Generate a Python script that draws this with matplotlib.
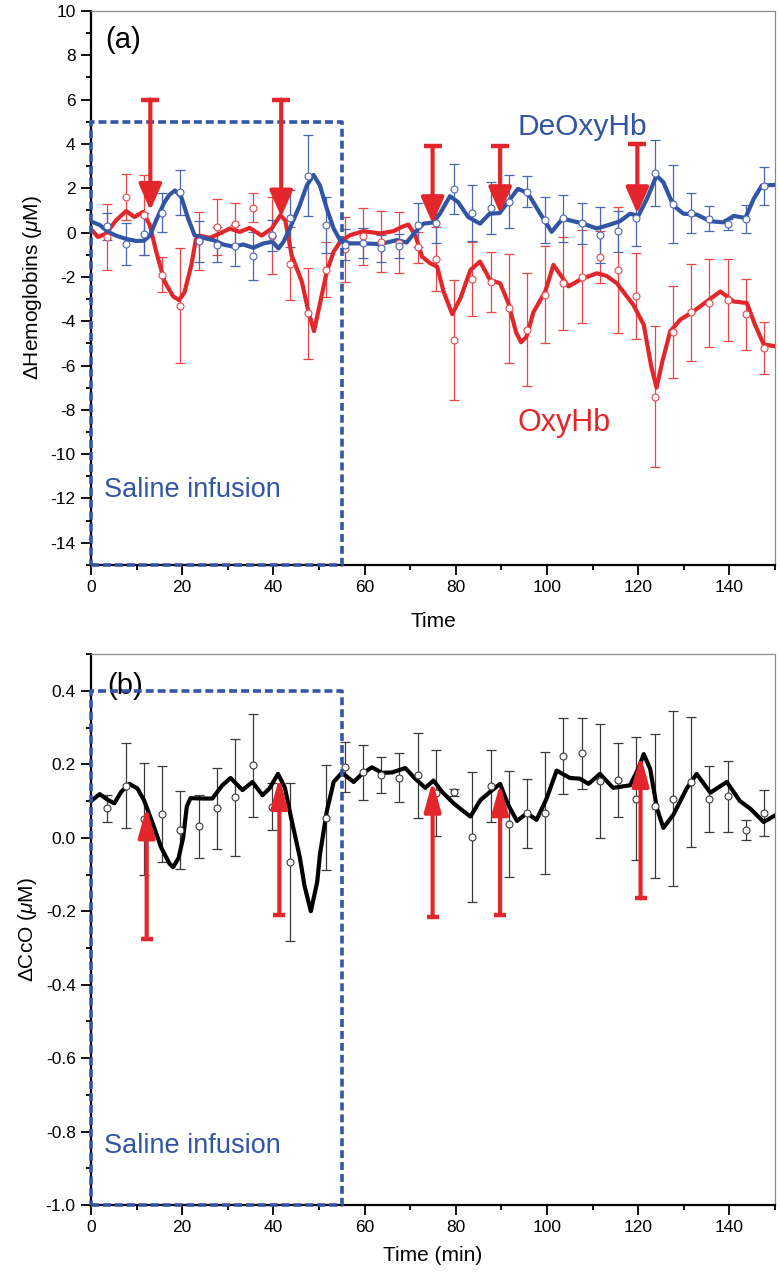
import matplotlib
matplotlib.use('Agg')
import matplotlib.pyplot as plt
from matplotlib.ticker import MultipleLocator, FormatStrFormatter

plt.rcParams['font.family'] = ['Liberation Sans', 'DejaVu Sans']
plt.rcParams['axes.unicode_minus'] = False
plt.rcParams['mathtext.fontset'] = 'custom'
plt.rcParams['mathtext.it'] = 'Liberation Sans:italic'
plt.rcParams['mathtext.rm'] = 'Liberation Sans'

RED = '#e3262b'
BLUE = '#3155a4'
BLUE_ERR = '#4a66b0'
RED_ERR = '#e8474a'
BOX = '#3456a6'

# sampled points, every 4 min
t_pts = [3.6, 7.6, 11.6, 15.6, 19.6, 23.6, 27.6, 31.6, 35.6, 39.6, 43.6, 47.6,
         51.6, 55.6, 59.6, 63.6, 67.6, 71.6, 75.6, 79.6, 83.6, 87.6, 91.6, 95.6,
         99.6, 103.6, 107.6, 111.6, 115.6, 119.6, 123.6, 127.6, 131.6, 135.6,
         139.6, 143.6, 147.6]
oxy = [-0.2, 1.6, 0.8, -1.9, -3.3, -0.38, 0.25, 0.4, 1.12, -0.14, -1.4, -3.65,
       -1.67, -0.75, -0.17, -0.42, -0.45, -0.66, -1.2, -4.85, -2.1, -2.23, -3.42, -4.38,
       -2.8, -2.28, -2.0, -1.1, -1.69, -2.88, -7.4, -4.48, -3.6, -3.18,
       -3.05, -3.68, -5.2]
oxy_err = [1.5, 1.05, 1.8, 0.8, 2.6, 1.3, 1.25, 0.95, 0.65, 1.74, 1.64, 2.05,
           1.25, 1.46, 1.28, 1.37, 1.38, 0.7, 1.45, 2.7, 1.68, 1.37, 2.47, 2.54,
           2.2, 2.1, 2.1, 1.17, 2.84, 1.94, 3.17, 2.07, 2.18, 1.98,
           1.85, 1.6, 1.17]
deoxy = [0.28, -0.52, -0.07, 0.9, 1.81, -0.4, -0.55, -0.6, -1.05, -0.12, 0.65, 2.57,
         0.33, -0.55, -0.48, -0.72, -0.6, 0.35, 0.44, 1.97, 0.88, 1.1, 1.4, 1.85,
         0.57, 0.64, 0.41, -0.12, 0.05, 0.66, 2.68, 1.29, 0.87, 0.63,
         0.37, 0.59, 2.09]
deoxy_err = [0.6, 0.95, 0.93, 0.87, 1.03, 0.91, 0.8, 0.93, 1.08, 0.7, 1.29, 1.82,
             1.27, 0.7, 0.69, 0.6, 0.55, 1.0, 0.93, 1.12, 1.27, 1.16, 1.2, 0.7,
             1.02, 1.06, 0.93, 1.27, 0.91, 1.27, 1.5, 1.75, 0.91, 0.55,
             0.25, 0.63, 0.86]
cco = [0.08, 0.142, 0.051, 0.064, 0.021, 0.031, 0.08, 0.11, 0.197, 0.085, -0.065, float('nan'),
       0.055, 0.194, 0.178, 0.171, 0.164, 0.17, 0.121, 0.124, 0.002, 0.14, 0.038, 0.067,
       0.068, 0.222, 0.23, 0.154, 0.158, 0.107, 0.087, 0.107, 0.152, 0.105,
       0.113, 0.021, 0.067]
cco_err = [0.036, 0.115, 0.153, 0.131, 0.106, 0.085, 0.11, 0.16, 0.14, 0.065, 0.215, float('nan'),
           0.143, 0.068, 0.074, 0.05, 0.066, 0.116, 0.117, 0.01, 0.177, 0.098, 0.145, 0.094,
           0.166, 0.104, 0.097, 0.155, 0.1, 0.167, 0.197, 0.237, 0.177, 0.09,
           0.097, 0.028, 0.062]

# smoothed traces
t_deoxy_fit = [0, 2, 3.7, 5.5, 7.7, 9.9, 11.6, 12.9, 14.3, 16.1, 17.2, 18.4, 19.8, 21.3,
               22.7, 24.6, 26.8, 29.0, 31.2, 33.4, 35.6, 37.8, 39.8, 41.1, 42.2, 43.6,
               45.8, 47.3, 48.8, 50.2, 51.7, 53.2, 54.6, 56.8, 59.7, 63.4, 67.1, 69.2,
               71.1, 72.9, 75.1, 76.5, 78.7, 80.5, 82.7, 85.3, 87.4, 89.6, 91.4, 93.6,
               95.0, 96.3, 98.5, 101.0, 103.4, 105.8, 108.0, 110.9, 113.8, 116.0, 118.2,
               120.0, 121.9, 124.0, 125.5, 127.7, 129.9, 132.8, 135.8, 138.7, 140.9,
               143.5, 145.3, 147.1, 150]
deoxy_fit = [0.5, 0.33, 0.03, -0.14, -0.29, -0.38, -0.37, -0.14, 0.56, 1.37, 1.7, 1.9, 1.6, 0.63,
             -0.12, -0.24, -0.34, -0.54, -0.64, -0.54, -0.69, -0.49, -0.42, -0.72, -0.42, 0.18,
             1.25, 2.12, 2.6, 2.12, 1.08, 0.18, -0.34, -0.49, -0.49, -0.52, -0.34, -0.45,
             0.03, 0.4, 0.46, 0.85, 1.64, 1.37, 0.7, 0.4, 0.85, 0.88, 1.37, 1.97,
             1.85, 1.6, 0.85, 0.03, 0.63, 0.51, 0.4, 0.18, 0.36, 0.51, 0.85,
             0.75, 1.52, 2.57, 2.27, 1.22, 0.85, 0.81, 0.51, 0.46, 0.75,
             0.66, 1.52, 2.12, 2.15]

t_oxy_fit = [0, 1.5, 3.3, 5.5, 7.7, 9.5, 11.4, 12.9, 14.3, 16.1, 18.0, 19.3, 20.5, 22.0,
             23.0, 23.8, 26.0, 28.2, 30.4, 32.6, 34.8, 37.4, 39.6, 41.5, 42.6, 44.0,
             46.2, 47.6, 48.9, 50.2, 51.7, 53.2, 54.6, 56.8, 59.7, 63.4, 66.3, 68.1,
             69.6, 71.1, 72.6, 74.4, 75.9, 77.3, 79.2, 81.0, 83.2, 85.3, 87.5, 89.7,
             91.5, 93.2, 94.3, 95.5, 97.0, 99.6, 101.4, 104.7, 107.5, 110.9, 113.0,
             115.3, 118.9, 121.2, 122.8, 124.0, 125.3, 127.0, 129.2, 132.1, 135.0,
             138.0, 140.9, 143.8, 145.6, 147.5, 150]
oxy_fit = [0.15, -0.2, -0.05, 0.55, 0.97, 0.7, 0.93, 0.33, -0.87, -2.2, -2.88, -3.05, -2.7, -1.46,
           -0.3, -0.14, -0.24, -0.05, 0.18, 0.03, 0.21, -0.14, 0.18, 0.78, 0.55, -1.03,
           -2.2, -3.5, -4.45, -3.2, -1.76, -0.87, -0.42, -0.12, 0.06, -0.04, 0.06, 0.25,
           0.36, -0.12, -1.09, -1.39, -1.54, -2.66, -3.68, -2.96, -1.69, -1.31, -2.14, -2.29,
           -3.18, -4.5, -4.95, -4.7, -3.6, -2.66, -1.46, -2.43, -2.1, -1.84, -1.95,
           -2.29, -3.26, -4.16, -6.0, -7.0, -5.8, -4.46, -3.93, -3.56, -3.11,
           -2.66, -3.11, -3.18, -4.16, -5.05, -5.13]

t_cco_fit = [0, 1.9, 3.7, 5.1, 6.6, 8.4, 10.2, 11.7, 13.5, 15.4, 17.2, 18.0, 19.2, 20.2,
             21.0, 21.8, 24.4, 26.6, 28.8, 30.6, 33.2, 35.4, 37.6, 39.1, 41.0, 42.5,
             43.9, 45.8, 46.8, 48.2, 49.6, 50.2, 51.7, 53.2, 55.0, 57.6, 59.4, 61.6,
             63.8, 66.0, 68.9, 71.1, 73.3, 75.1, 77.0, 79.5, 81.7, 83.2, 85.4, 87.5,
             89.7, 91.5, 93.4, 95.6, 97.7, 99.9, 102.1, 105.0, 107.2, 109.1, 111.6,
             114.5, 118.2, 120.0, 121.2, 122.6, 124.1, 125.5, 127.7, 130.6, 132.8,
             135.8, 139.4, 142.3, 144.5, 147.5, 150]
cco_fit = [0.1, 0.119, 0.103, 0.094, 0.125, 0.147, 0.134, 0.1, 0.04, -0.027, -0.07, -0.08, -0.055, 0.0,
           0.085, 0.108, 0.107, 0.107, 0.143, 0.163, 0.13, 0.152, 0.116, 0.134, 0.174, 0.137,
           0.053, -0.054, -0.13, -0.2, -0.12, -0.045, 0.072, 0.152, 0.177, 0.152, 0.174, 0.192,
           0.177, 0.178, 0.19, 0.161, 0.136, 0.156, 0.125, 0.094, 0.072, 0.058, 0.103, 0.125,
           0.147, 0.089, 0.046, 0.067, 0.049, 0.107, 0.183, 0.163, 0.161, 0.147, 0.174,
           0.136, 0.143, 0.188, 0.228, 0.188, 0.08, 0.027, 0.063, 0.134, 0.174,
           0.123, 0.152, 0.1, 0.08, 0.043, 0.061]

# stimulus arrows
arrow_t_a = [13.0, 41.7, 74.9, 89.7, 119.8]
arrow_tail_a = [6.0, 6.0, 3.9, 3.9, 4.0]
arrow_tip_a = [1.0, 0.7, 0.4, 0.85, 0.85]
arrow_t_b = [12.2, 41.3, 74.9, 89.7, 120.5]
arrow_tail_b = [-0.275, -0.21, -0.215, -0.21, -0.165]
arrow_tip_b = [0.085, 0.165, 0.155, 0.148, 0.225]

# saline infusion window
saline_t = [0, 55]
box_a = [-15, 5]
box_b = [-1.0, 0.4]


def style_axes(ax):
    for s in ['left', 'bottom']:
        ax.spines[s].set_linewidth(1.6)
        ax.spines[s].set_color('black')
    for s in ['top', 'right']:
        ax.spines[s].set_linewidth(0.9)
        ax.spines[s].set_color('#8a8a8a')
    ax.tick_params(which='both', direction='out', top=False, right=False,
                   width=1.3, labelsize=12.5, colors='black')
    ax.tick_params(which='major', length=7, pad=4)
    ax.tick_params(which='minor', length=3.5)
    ax.set_xlim(0, 150)
    ax.xaxis.set_major_locator(MultipleLocator(20))
    ax.xaxis.set_minor_locator(MultipleLocator(10))


def draw_box(ax, ylims):
    x0, x1 = saline_t
    y0, y1 = ylims
    ax.plot([x0, x1, x1, x0, x0], [y0, y0, y1, y1, y0], color=BOX, lw=2.6,
            linestyle=(0, (2.2, 1.1)), clip_on=False, zorder=6)


def draw_arrows(ax, ts, tails, tips, hl, hw, cap):
    for t, a, b in zip(ts, tails, tips):
        ax.annotate('', xy=(t, b), xytext=(t, a),
                    arrowprops=dict(arrowstyle='-|>,head_length=%g,head_width=%g' % (hl, hw),
                                    color=RED, lw=3, shrinkA=0, shrinkB=0,
                                    mutation_scale=20), zorder=8)
    ax.plot(ts, tails, linestyle='none', marker='_', ms=cap, mew=3.2, color=RED, zorder=8)


fig = plt.figure(figsize=(7.8, 12.84), dpi=100)
ax1 = fig.add_axes([0.1167, 0.5600, 0.877, 0.4315])
ax2 = fig.add_axes([0.1167, 0.0615, 0.877, 0.4290])

# panel (a)
style_axes(ax1)
ax1.set_ylim(-15, 10)
ax1.yaxis.set_major_locator(MultipleLocator(2))
ax1.yaxis.set_minor_locator(MultipleLocator(1))
ax1.errorbar(t_pts, oxy, yerr=oxy_err, fmt='none', ecolor=RED_ERR, elinewidth=0.9,
             capsize=3.5, capthick=0.9, zorder=2)
ax1.errorbar(t_pts, deoxy, yerr=deoxy_err, fmt='none', ecolor=BLUE_ERR, elinewidth=0.9,
             capsize=3.5, capthick=0.9, zorder=2)
ax1.plot(t_oxy_fit, oxy_fit, color=RED, lw=3, solid_joinstyle='round', zorder=3)
ax1.plot(t_deoxy_fit, deoxy_fit, color=BLUE, lw=3, solid_joinstyle='round', zorder=3)
ax1.plot(t_pts, oxy, 'o', ms=5, mfc='white', mec=RED_ERR, mew=0.8, zorder=4)
ax1.plot(t_pts, deoxy, 'o', ms=5, mfc='white', mec=BLUE_ERR, mew=0.8, zorder=4)
draw_box(ax1, box_a)
draw_arrows(ax1, arrow_t_a, arrow_tail_a, arrow_tip_a, 0.8, 0.35, 13)
ax1.text(3.2, 8.7, '(a)', fontsize=21, va='center')
ax1.text(93.6, 4.75, 'DeOxyHb', fontsize=21.5, color=BLUE, va='center')
ax1.text(93.6, -8.6, 'OxyHb', fontsize=22, color=RED, va='center')
ax1.text(2.8, -11.6, 'Saline infusion', fontsize=19.5, color=BLUE, va='center')
ax1.set_xlabel('Time', fontsize=15, labelpad=12)
ax1.set_ylabel(r'$\Delta$Hemoglobins ($\mathit{\mu}$M)', fontsize=15, labelpad=5)

# panel (b)
style_axes(ax2)
ax2.set_ylim(-1.0, 0.5)
ax2.yaxis.set_major_locator(MultipleLocator(0.2))
ax2.yaxis.set_minor_locator(MultipleLocator(0.1))
ax2.yaxis.set_major_formatter(FormatStrFormatter('%.1f'))
ax2.set_yticks([-1.0, -0.8, -0.6, -0.4, -0.2, 0.0, 0.2, 0.4])
ax2.errorbar(t_pts, cco, yerr=cco_err, fmt='none', ecolor='#3a3a3a', elinewidth=0.9,
             capsize=3.5, capthick=0.9, zorder=2)
ax2.plot(t_cco_fit, cco_fit, color='black', lw=3, solid_joinstyle='round', zorder=3)
ax2.plot(t_pts, cco, 'o', ms=5, mfc='white', mec='#3a3a3a', mew=0.8, zorder=4)
draw_box(ax2, box_b)
draw_arrows(ax2, arrow_t_b, arrow_tail_b, arrow_tip_b, 0.9, 0.25, 9)
ax2.text(3.6, 0.413, '(b)', fontsize=21, va='center')
ax2.text(2.8, -0.84, 'Saline infusion', fontsize=19.5, color=BLUE, va='center')
ax2.set_xlabel('Time (min)', fontsize=15, labelpad=8)
ax2.set_ylabel(r'$\Delta$CcO ($\mathit{\mu}$M)', fontsize=15, labelpad=5)

fig.savefig('out.png', dpi=100)
